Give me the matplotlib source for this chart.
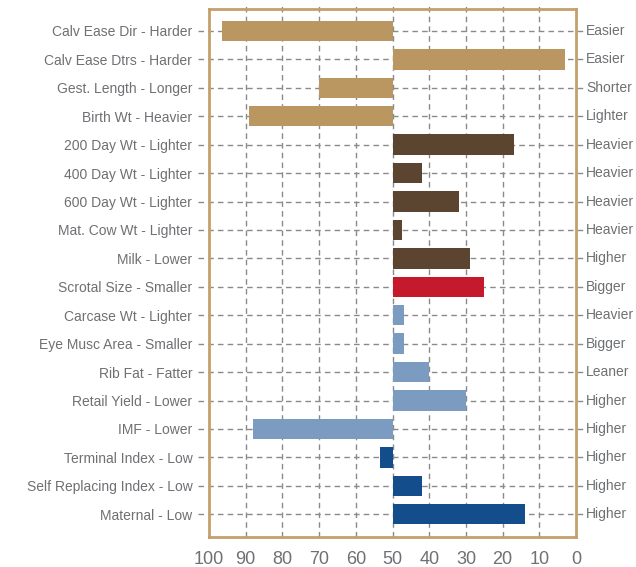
import matplotlib.pyplot as plt

traits = ['Calv Ease Dir - Harder', 'Calv Ease Dtrs - Harder', 'Gest. Length - Longer',
          'Birth Wt - Heavier', '200 Day Wt - Lighter', '400 Day Wt - Lighter',
          '600 Day Wt - Lighter', 'Mat. Cow Wt - Lighter', 'Milk - Lower',
          'Scrotal Size - Smaller', 'Carcase Wt - Lighter', 'Eye Musc Area - Smaller',
          'Rib Fat - Fatter', 'Retail Yield - Lower', 'IMF - Lower',
          'Terminal Index - Low', 'Self Replacing Index - Low', 'Maternal - Low']
right_labels = ['Easier', 'Easier', 'Shorter', 'Lighter', 'Heavier', 'Heavier',
                'Heavier', 'Heavier', 'Higher', 'Bigger', 'Heavier', 'Bigger',
                'Leaner', 'Higher', 'Higher', 'Higher', 'Higher', 'Higher']
percentile = [96.5, 3, 70, 89, 17, 42, 32, 47.5, 29, 25, 47, 47, 40, 30, 88, 53.5, 42, 14]
groups = ['calving'] * 4 + ['growth'] * 5 + ['fertility'] + ['carcase'] * 5 + ['index'] * 3

group_colors = {
    'calving': '#BA9660',
    'growth': '#5C4530',
    'fertility': '#C51A2B',
    'carcase': '#7B9BC0',
    'index': '#144D8C',
}
x_ticks = [100, 90, 80, 70, 60, 50, 40, 30, 20, 10, 0]

font = ['Liberation Sans Narrow', 'Liberation Sans', 'DejaVu Sans']
text_color = '#6E7073'
grid_color = '#8A8A8A'
frame_color = '#C4A06A'

fig = plt.figure(figsize=(6.36, 5.67), dpi=100)
ax = fig.add_axes([0.3286, 0.0529, 0.5771, 0.9312])

rows = list(range(len(traits)))
colors = [group_colors[g] for g in groups]
widths = [p - 50 for p in percentile]
ax.barh(rows, widths, left=50, height=0.72, color=colors, zorder=3)

ax.set_xlim(100, 0)
ax.set_ylim(17.8, -0.77)

# dashed grid lines that run past the frame
ytr = ax.get_yaxis_transform()
xtr = ax.get_xaxis_transform()
for r in rows:
    ax.plot([-0.03, 1.03], [r, r], transform=ytr, color=grid_color, lw=1,
            ls=(0, (4, 3)), clip_on=False, zorder=1)
for x in x_ticks[1:-1]:
    ax.plot([x, x], [0, 1.01], transform=xtr, color=grid_color, lw=1,
            ls=(0, (4, 3)), clip_on=False, zorder=1)

ax.set_yticks(rows)
ax.set_yticklabels(traits, family=font, fontsize=10, color=text_color)
ax.set_xticks(x_ticks)
ax.set_xticklabels([str(x) for x in x_ticks], family=font, fontsize=13, color=text_color)
ax.tick_params(axis='y', length=0, pad=12)
ax.tick_params(axis='x', length=0, pad=10)

for r, lab in zip(rows, right_labels):
    ax.text(1.028, r, lab, transform=ytr, ha='left', va='center',
            family=font, fontsize=10, color=text_color)

for s in ax.spines.values():
    s.set_color(frame_color)
    s.set_linewidth(2)
    s.set_zorder(4)

fig.savefig('out.png', dpi=100)
